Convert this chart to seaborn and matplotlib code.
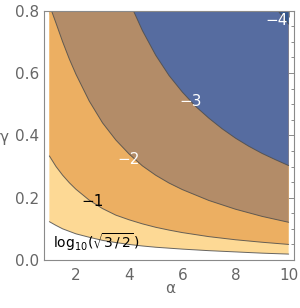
import numpy as np
import pandas as pd
import matplotlib
matplotlib.use("Agg")
import matplotlib.pyplot as plt
import seaborn as sns

# ---- data (contour lines of a log10 quantity) ----
levels = ["log10(sqrt(3/2))", "-1", "-2", "-3", "-4"]

c0_alpha = [1.0, 1.25, 1.5, 1.75, 2.0, 2.5, 3.0, 3.5, 4.0, 4.5, 5.0, 6.0, 7.0, 8.0, 9.0, 10.0]
c0_gamma = [0.123, 0.111, 0.100, 0.092, 0.084, 0.073, 0.063, 0.056, 0.050, 0.045, 0.041,
            0.035, 0.030, 0.026, 0.022, 0.019]

c1_alpha = [1.0, 1.25, 1.5, 1.75, 2.0, 2.5, 3.0, 3.5, 4.0, 4.5, 5.0, 5.5, 6.0, 7.0, 8.0, 9.0, 10.0]
c1_gamma = [0.334, 0.300, 0.272, 0.248, 0.227, 0.192, 0.165, 0.144, 0.129, 0.116, 0.105,
            0.096, 0.088, 0.075, 0.065, 0.057, 0.050]

c2_alpha = [1.08, 1.25, 1.5, 1.75, 2.0, 2.5, 3.0, 3.5, 4.0, 4.5, 5.0, 5.5, 6.0, 7.0, 8.0, 9.0, 10.0]
c2_gamma = [0.800, 0.760, 0.700, 0.645, 0.596, 0.510, 0.440, 0.385, 0.340, 0.302, 0.272,
            0.247, 0.226, 0.191, 0.163, 0.140, 0.121]

c3_alpha = [4.16, 4.5, 5.0, 5.5, 6.0, 6.5, 7.0, 7.5, 8.0, 8.5, 9.0, 9.5, 10.0]
c3_gamma = [0.800, 0.736, 0.657, 0.592, 0.539, 0.493, 0.455, 0.421, 0.391, 0.365, 0.342,
            0.322, 0.303]

c4_alpha = [9.6, 9.8, 10.0]
c4_gamma = [0.800, 0.778, 0.757]

label_text = [r"$\mathrm{log}_{10}(\sqrt{3\,/\,2}\,)$", "\u22121", "\u22122", "\u22123", "\u22124"]
label_alpha = [2.76, 2.61, 3.98, 6.31, 9.55]
label_gamma = [0.058, 0.188, 0.321, 0.510, 0.768]
label_color = ["black", "black", "white", "white", "white"]

x_ticks = [2, 4, 6, 8, 10]
y_ticks = [0.0, 0.2, 0.4, 0.6, 0.8]
y_ticklabels = ["0.0", "0.2", "0.4", "0.6", "0.8"]

# ---- style ----
sns.set_style("white")
plt.rcParams["font.family"] = ["DejaVu Sans"]
plt.rcParams["mathtext.fontset"] = "dejavusans"

fill_colors = ["#FDD995", "#ECAF62", "#B38C68", "#566CA0", "#34578C"]
line_color = "#4d4d4d"
frame_color = "#8a8a8a"
text_gray = "#666666"

fig = plt.figure(figsize=(3.0, 3.08), dpi=100)
ax = fig.add_axes([0.1477, 0.1558, 0.8313, 0.8095])

contours = [(c0_alpha, c0_gamma), (c1_alpha, c1_gamma), (c2_alpha, c2_gamma),
            (c3_alpha, c3_gamma), (c4_alpha, c4_gamma)]

g_top = 0.8
a_right = 10.0
for (ca, cg), col in zip(contours, fill_colors):
    px = list(ca) + [a_right, ca[0]]
    py = list(cg) + [g_top, g_top]
    ax.fill(px, py, color=col, lw=0, zorder=1)

for (ca, cg), name in zip(contours, levels):
    df = pd.DataFrame({"alpha": ca, "gamma": cg})
    sns.lineplot(data=df, x="alpha", y="gamma", ax=ax, color=line_color,
                 lw=0.7, alpha=0.85, estimator=None, sort=False, zorder=2)

for t, a, g, c in zip(label_text, label_alpha, label_gamma, label_color):
    fs = 10 if t.startswith("$") else 11
    ax.text(a, g, t, color=c, fontsize=fs, ha="center", va="center", zorder=3)

ax.set_xlim(0.81, 10.19)
ax.set_ylim(0.0, 0.8)
ax.set_xticks(x_ticks)
ax.set_xticklabels([str(v) for v in x_ticks])
ax.set_yticks(y_ticks)
ax.set_yticklabels(y_ticklabels)
ax.set_xticks(np.arange(1.0, 10.01, 0.5), minor=True)
ax.set_yticks(np.arange(0.0, 0.801, 0.05), minor=True)

ax.tick_params(which="both", direction="in", top=True, right=True,
               color=frame_color, width=0.7)
ax.tick_params(which="major", length=4.0, labelsize=11, labelcolor=text_gray)
ax.tick_params(which="minor", length=2.0)
ax.tick_params(axis="x", which="major", pad=6)
ax.tick_params(axis="y", which="major", pad=3.5)

for s in ax.spines.values():
    s.set_color(frame_color)
    s.set_linewidth(0.8)
    s.set_visible(True)

ax.set_xlabel("\u03b1", fontsize=11, color=text_gray, va="center", ha="center")
ax.xaxis.set_label_coords(0.504, -0.1135)
ax.set_ylabel("\u03b3", fontsize=11, color=text_gray, rotation=0, va="center", ha="center")
ax.yaxis.set_label_coords(-0.162, 0.493)

fig.savefig("out.png", dpi=100)
